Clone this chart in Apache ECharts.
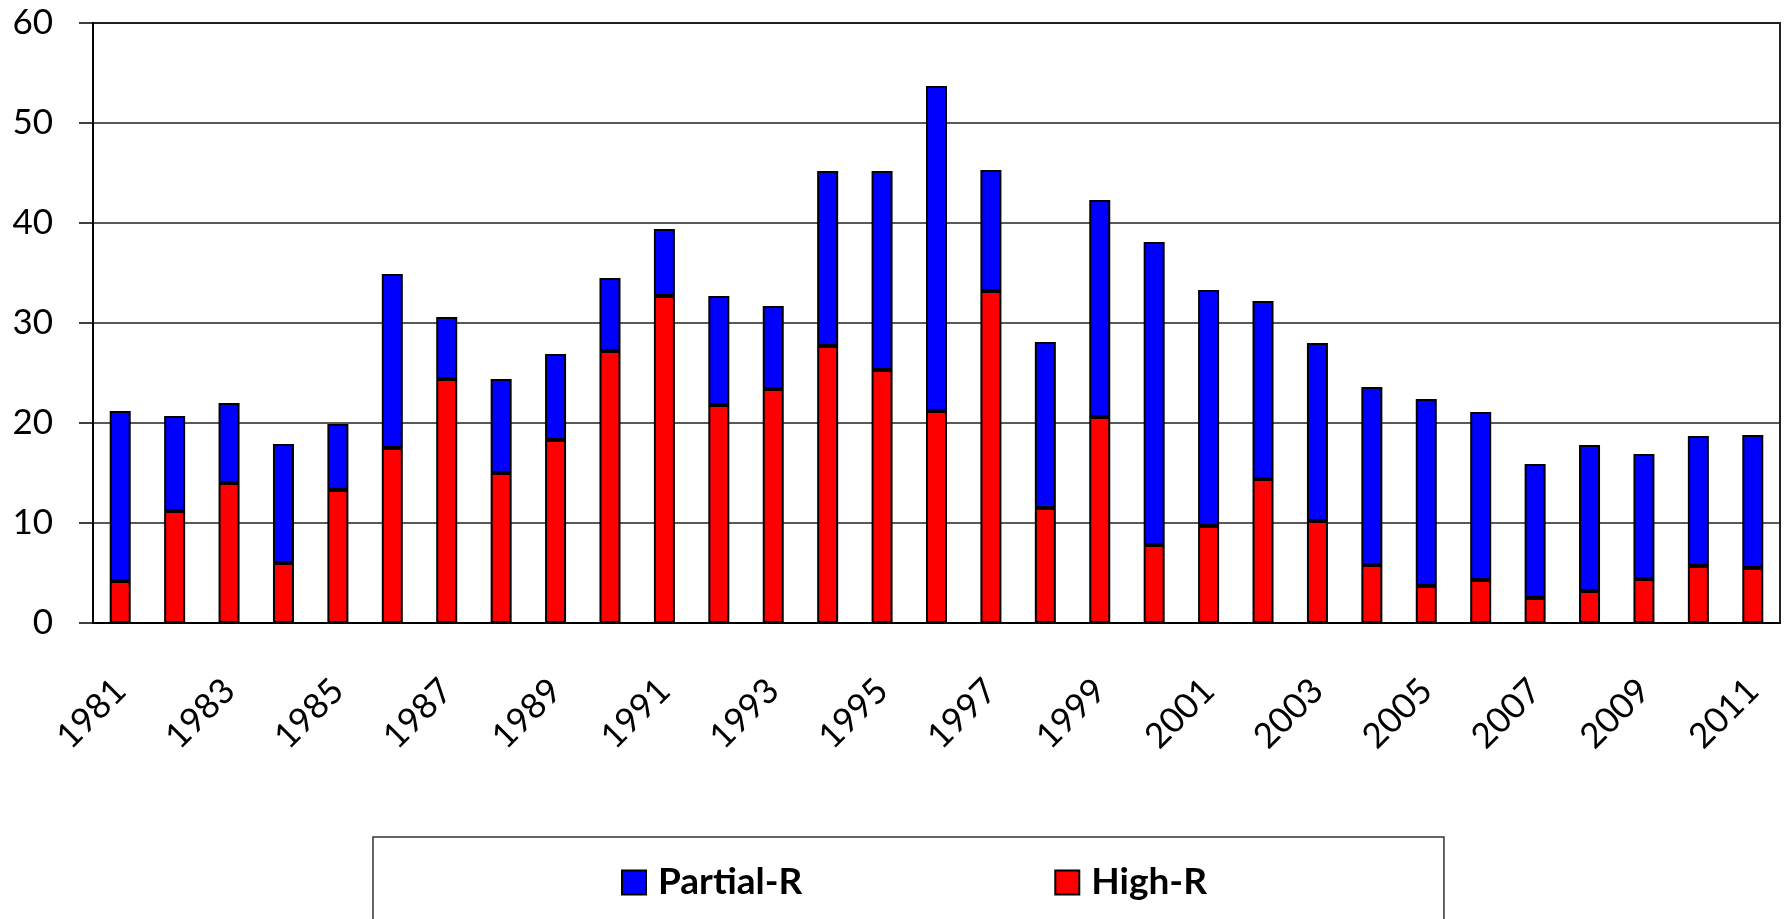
<!DOCTYPE html>
<html>
<head>
<meta charset="utf-8">
<script src="https://cdn.jsdelivr.net/npm/echarts@6/dist/echarts.min.js"></script>
<style>
  html, body { margin: 0; padding: 0; background: #fff; }
  #chart { width: 1791px; height: 919px; }
</style>
</head>
<body>
<div id="chart"></div>
<script>
const years = ["1981", "1982", "1983", "1984", "1985", "1986", "1987", "1988", "1989", "1990",
  "1991", "1992", "1993", "1994", "1995", "1996", "1997", "1998", "1999", "2000",
  "2001", "2002", "2003", "2004", "2005", "2006", "2007", "2008", "2009", "2010", "2011"];

const highR = [4.2, 11.2, 14.0, 6.0, 13.3, 17.5, 24.4, 15.0, 18.3, 27.2,
  32.7, 21.8, 23.4, 27.7, 25.3, 21.2, 33.2, 11.5, 20.6, 7.8,
  9.7, 14.4, 10.2, 5.8, 3.7, 4.3, 2.5, 3.2, 4.4, 5.7, 5.5];

const partialR = [17.0, 9.5, 8.0, 11.9, 6.6, 17.4, 6.2, 9.4, 8.6, 7.3,
  6.7, 10.9, 8.3, 17.5, 19.9, 32.5, 12.1, 16.6, 21.7, 30.3,
  23.6, 17.8, 17.8, 17.8, 18.7, 16.8, 13.4, 14.6, 12.5, 13.0, 13.3];

const yTicks = { min: 0, max: 60, step: 10 };

const chart = echarts.init(document.getElementById("chart"));

const font = "Lato, 'Open Sans', sans-serif";

const option = {
  animation: false,
  grid: {
    left: 93,
    right: 11,
    top: 23,
    bottom: 296,
    show: true,
    borderColor: "#222",
    borderWidth: 2,
  },
  legend: {
    data: ["Partial-R", "High-R"],
    left: 373,
    top: 837,
    icon: "rect",
    itemWidth: 24,
    itemHeight: 24,
    itemGap: 252,
    padding: [27, 237, 44, 248],
    borderColor: "#333",
    borderWidth: 1.5,
    textStyle: {
      fontFamily: font,
      fontWeight: "bold",
      fontSize: 37,
      color: "#000",
      lineHeight: 24,
      padding: [0, 0, 0, 7],
    },
  },
  xAxis: {
    type: "category",
    data: years,
    axisLine: { lineStyle: { color: "#000", width: 2 } },
    axisTick: {
      interval: 0,
      length: 14,
      lineStyle: { color: "#000", width: 1.5 },
    },
    axisLabel: {
      interval: 1,
      rotate: 45,
      margin: 62,
      fontFamily: font,
      fontSize: 35,
      color: "#000",
    },
  },
  yAxis: {
    type: "value",
    min: yTicks.min,
    max: yTicks.max,
    interval: yTicks.step,
    axisLine: { show: true, lineStyle: { color: "#000", width: 2 } },
    axisTick: { show: true, length: 14, lineStyle: { color: "#000", width: 1.5 } },
    axisLabel: {
      margin: 40,
      fontFamily: font,
      fontSize: 35,
      color: "#000",
    },
    splitLine: { lineStyle: { color: "#222", width: 1.5 } },
  },
  series: [
    {
      name: "High-R",
      type: "bar",
      stack: "r",
      barWidth: 21,
      itemStyle: { color: "#ff0000", borderColor: "#000", borderWidth: 2 },
      data: highR,
    },
    {
      name: "Partial-R",
      type: "bar",
      stack: "r",
      barWidth: 21,
      itemStyle: { color: "#0000ff", borderColor: "#000", borderWidth: 2 },
      data: partialR,
    },
  ],
};

chart.setOption(option);
</script>
</body>
</html>
